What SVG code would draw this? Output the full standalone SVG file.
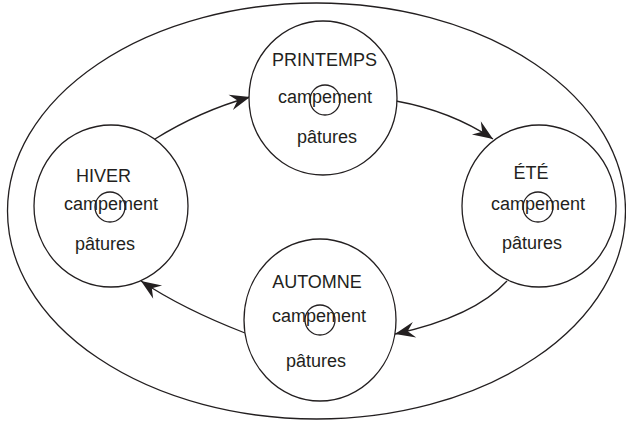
<svg xmlns="http://www.w3.org/2000/svg" width="626" height="421" viewBox="0 0 626 421">
<style>
.outer{fill:none;stroke:#231f20;stroke-width:1.3}
.season{fill:#fff;stroke:#231f20;stroke-width:1.3}
.camp{fill:none;stroke:#231f20;stroke-width:1.3}
.lbl{font-family:"Liberation Sans",Arial,sans-serif;font-size:18px;fill:#231f20;text-anchor:middle}
.conn{fill:none;stroke:#231f20;stroke-width:1.3;marker-end:url(#arr)}
</style>
<defs>
<marker id="arr" markerUnits="userSpaceOnUse" viewBox="-21 -9 22 18" refX="0" refY="0" markerWidth="22" markerHeight="18" orient="auto">
<path d="M0,0 L-20,-8 L-13,0 L-20,8 Z" fill="#231f20"/>
</marker>
</defs>
<ellipse class="outer" cx="316.5" cy="211" rx="309" ry="208"/>
<g id="connectors">
<path class="conn" d="M155,139 Q200,111 250,97"/>
<path class="conn" d="M396,101 Q451,111 493,139"/>
<path class="conn" d="M507,281 C485,305 450,322 395,334"/>
<path class="conn" d="M245,333 Q183,309 141,281"/>
</g>
<g id="printemps">
<ellipse class="season" cx="323" cy="98" rx="74" ry="77"/>
<circle class="camp" cx="325" cy="100" r="15"/>
<text class="lbl" x="324.5" y="66">PRINTEMPS</text>
<text class="lbl" x="325" y="103">campement</text>
<text class="lbl" x="327" y="143">pâtures</text>
</g>
<g id="ete">
<ellipse class="season" cx="539" cy="206" rx="77" ry="81"/>
<circle class="camp" cx="538" cy="207" r="15"/>
<text class="lbl" x="531" y="179">ÉTÉ</text>
<text class="lbl" x="538" y="210">campement</text>
<text class="lbl" x="532" y="249">pâtures</text>
</g>
<g id="hiver">
<ellipse class="season" cx="111" cy="206" rx="77" ry="81"/>
<circle class="camp" cx="110" cy="207" r="15"/>
<text class="lbl" x="103.5" y="182">HIVER</text>
<text class="lbl" x="111" y="210">campement</text>
<text class="lbl" x="105" y="250">pâtures</text>
</g>
<g id="automne">
<ellipse class="season" cx="320" cy="320" rx="76" ry="81"/>
<circle class="camp" cx="320" cy="320" r="15"/>
<text class="lbl" x="317" y="288">AUTOMNE</text>
<text class="lbl" x="319" y="322">campement</text>
<text class="lbl" x="316" y="367">pâtures</text>
</g>
</svg>
